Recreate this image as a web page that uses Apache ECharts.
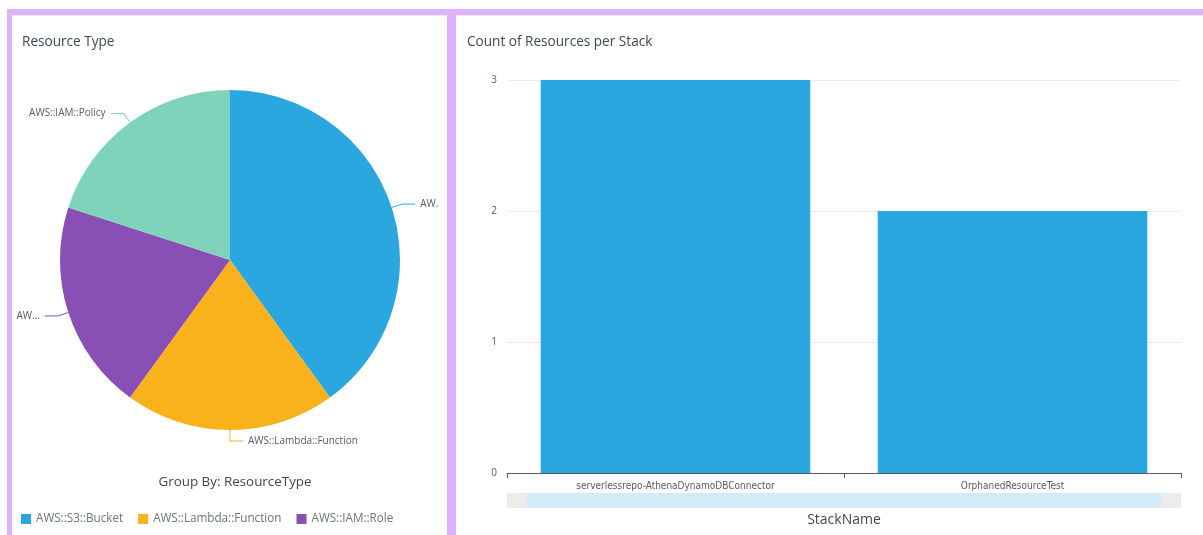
<!DOCTYPE html>
<html>
<head>
<meta charset="utf-8">
<script src="https://cdn.jsdelivr.net/npm/echarts@6/dist/echarts.min.js"></script>
<style>
  html, body { margin: 0; padding: 0; background: #ffffff; }
  #wrap { position: relative; width: 1203px; height: 535px; overflow: hidden; background: #ffffff; }
  .frame { position: absolute; left: 7px; top: 9px; width: 1196px; height: 526px; background: #dfb3fb; }
  .panel { position: absolute; top: 15px; height: 520px; background: #ffffff; box-shadow: inset 0 1px 0 #ece6f1; }
  #p1 { left: 12px; width: 435px; }
  #p2 { left: 456px; width: 747px; }
  #chart { position: absolute; left: 0; top: 0; width: 1203px; height: 535px; }
</style>
</head>
<body>
<div id="wrap">
  <div class="frame"></div>
  <div class="panel" id="p1"></div>
  <div class="panel" id="p2"></div>
  <div id="chart"></div>
</div>
<script>
// ---- data ----
const resourceTypes = ['AWS::S3::Bucket', 'AWS::Lambda::Function', 'AWS::IAM::Role', 'AWS::IAM::Policy'];
const resourceCounts = [2, 1, 1, 1];
const resourceLabelTexts = ['AW.', 'AWS::Lambda::Function', 'AW...', 'AWS::IAM::Policy'];
const legendShown = ['AWS::S3::Bucket', 'AWS::Lambda::Function', 'AWS::IAM::Role'];
const resourceColors = ['#2aa7df', '#f9b11c', '#8a4fb4', '#7fd3bb'];

const stackNames = ['serverlessrepo-AthenaDynamoDBConnector', 'OrphanedResourceTest'];
const stackCounts = [3, 2];

const FONT = 'Open Sans';

const chart = echarts.init(document.getElementById('chart'), null, { renderer: 'canvas' });

const pieData = resourceTypes.map((n, i) => ({
  name: n, value: resourceCounts[i], itemStyle: { color: resourceColors[i] }
}));

const option = {
  backgroundColor: 'transparent',
  animation: false,
  textStyle: { fontFamily: FONT },
  title: [
    { text: 'Resource Type', left: 17, top: 30,
      textStyle: { fontSize: 13.6, fontWeight: 'normal', color: '#3f4852', fontFamily: FONT } },
    { text: 'Count of Resources per Stack', left: 462, top: 30,
      textStyle: { fontSize: 13.6, fontWeight: 'normal', color: '#3f4852', fontFamily: FONT } },
    { text: 'Group By: ResourceType', left: 230, textAlign: 'center', top: 471,
      textStyle: { fontSize: 13.4, fontWeight: 'normal', color: '#3f4852', fontFamily: FONT } }
  ],
  legend: {
    data: legendShown,
    left: 16, top: 508,
    icon: 'rect', itemWidth: 10, itemHeight: 10, itemGap: 15,
    textStyle: { fontSize: 11.7, color: '#6b737c', fontFamily: FONT },
    selectedMode: false
  },
  grid: { left: 507, right: 22, top: 80, bottom: 62, containLabel: false, outerBoundsMode: 'none' },
  xAxis: {
    type: 'category',
    data: stackNames,
    axisLine: { show: true, lineStyle: { color: '#545b64', width: 1 } },
    axisTick: { show: true, length: 5, lineStyle: { color: '#545b64' } },
    axisLabel: { fontSize: 10, color: '#545b64', margin: 8, fontFamily: 'DejaVu Sans Condensed' },
    name: 'StackName', nameLocation: 'middle', nameGap: 40,
    nameTextStyle: { fontSize: 14, color: '#3f4852', fontFamily: FONT }
  },
  yAxis: {
    type: 'value', min: 0, max: 3, interval: 1,
    axisLine: { show: false }, axisTick: { show: false },
    axisLabel: { fontSize: 10, color: '#545b64', margin: 10, fontFamily: FONT },
    splitLine: { show: true, lineStyle: { color: '#e9ebed', width: 1 } }
  },
  dataZoom: [{
    type: 'slider', xAxisIndex: 0, start: 0, end: 100,
    left: 515, right: 32, top: 493, height: 15,
    showDetail: false, showDataShadow: false, brushSelect: false,
    borderColor: 'transparent',
    borderRadius: 0,
    backgroundColor: '#d2ebf6',
    fillerColor: 'rgba(0,0,0,0)',
    handleIcon: 'path://M0,0H20V15H0Z',
    handleSize: 20,
    handleStyle: { color: '#ececec', borderColor: 'transparent', borderWidth: 0 },
    emphasis: {
      handleStyle: { borderColor: 'transparent', color: '#ececec' }
    },
    textStyle: { color: 'transparent' }
  }],
  series: [
    {
      type: 'pie',
      center: [230, 260],
      radius: [0, 170],
      startAngle: 90,
      clockwise: true,
      avoidLabelOverlap: false,
      data: pieData,
      label: {
        show: true, position: 'outside',
        formatter: (p) => resourceLabelTexts[p.dataIndex],
        fontSize: 10, color: '#545b64', fontFamily: FONT
      },
      labelLine: { show: true, length: 11, length2: 13, lineStyle: { width: 1 } },
      itemStyle: { borderWidth: 0 },
      emphasis: { disabled: true }
    },
    {
      type: 'bar',
      data: stackCounts,
      barCategoryGap: '20%',
      itemStyle: { color: '#2aa7df' },
      emphasis: { disabled: true }
    }
  ]
};
chart.setOption(option);
</script>
</body>
</html>
